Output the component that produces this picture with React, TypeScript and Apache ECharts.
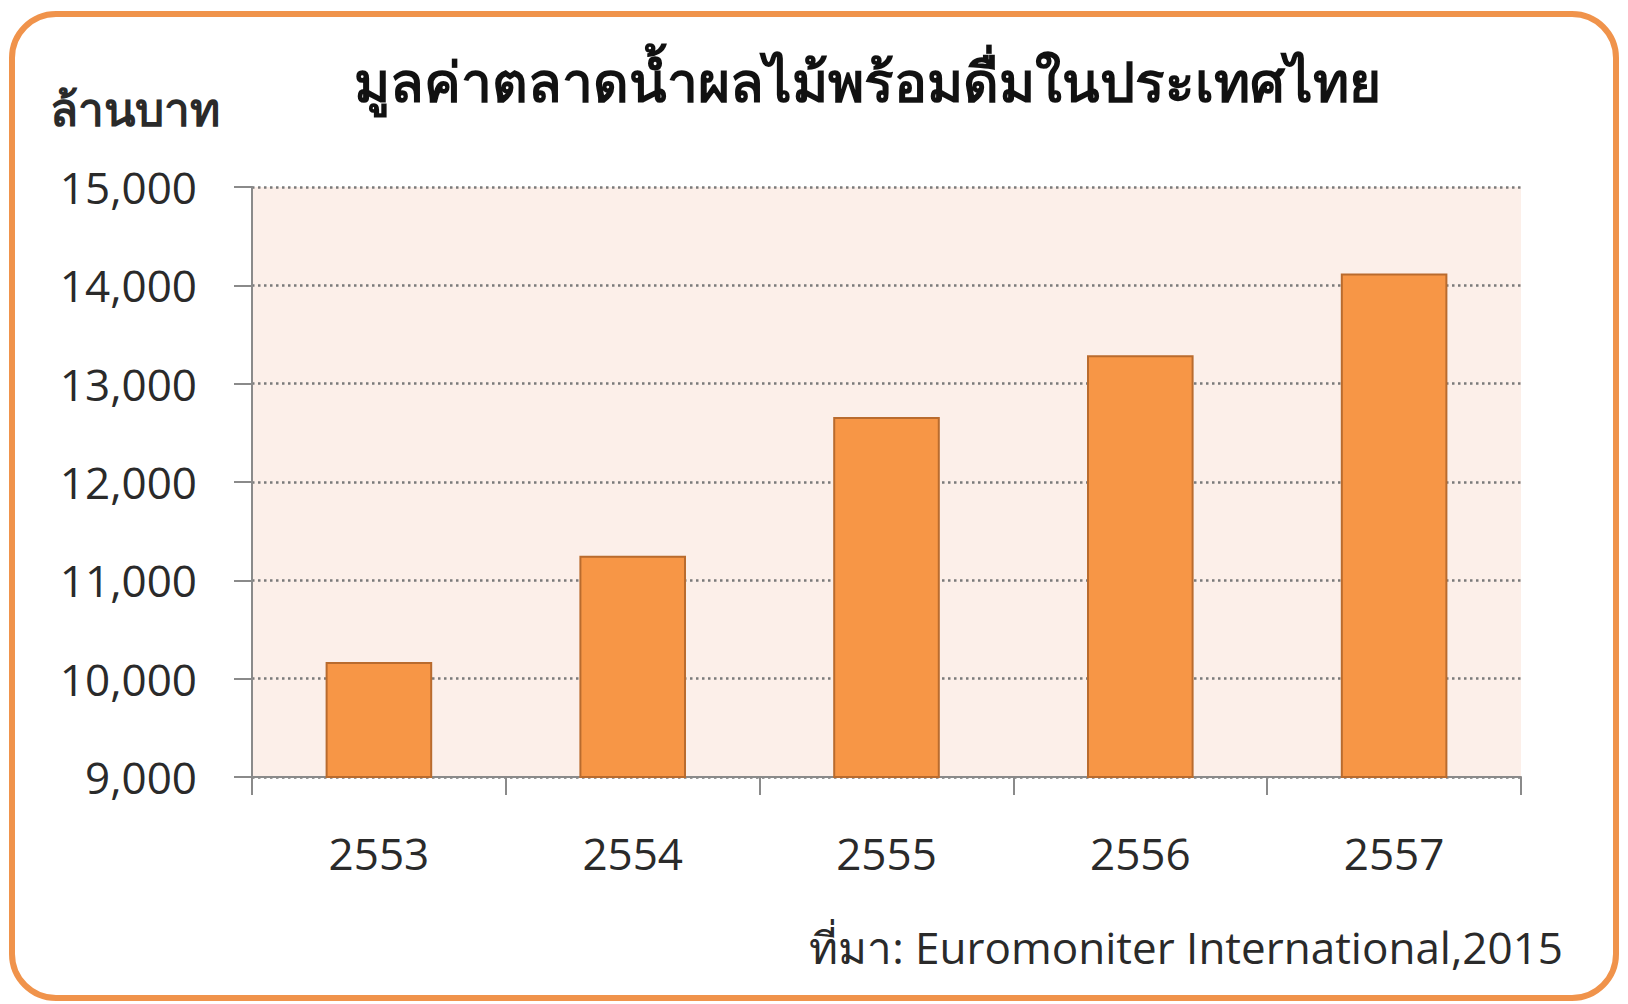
import React, { useEffect, useRef } from "react";
import * as echarts from "echarts";

const years = ["2553", "2554", "2555", "2556", "2557"];
const marketValue = [10170, 11250, 12660, 13290, 14120];
const yTicks = { min: 9000, max: 15000, interval: 1000 };
const titleText = "มูลค่าตลาดน้ำผลไม้พร้อมดื่มในประเทศไทย";
const unitText = "ล้านบาท";
const sourceText = "ที่มา: Euromoniter International,2015";

const FONT = "'Open Sans', 'Noto Sans', 'DejaVu Sans', sans-serif";
const TEXT = "#2a2a2a";

export default function App() {
  const ref = useRef<HTMLDivElement>(null);
  useEffect(() => {
    if (!ref.current) return;
    const chart = echarts.init(ref.current, undefined, { renderer: "svg" });
    chart.setOption({
      animation: false,
      backgroundColor: "#ffffff",
      grid: {
        left: 252,
        right: 107,
        top: 187,
        bottom: 227,
        show: true,
        backgroundColor: "#FCEFE9",
        borderWidth: 0,
      },
      graphic: [
        {
          type: "rect",
          shape: { x: 12, y: 14, width: 1604, height: 984, r: 44 },
          style: { fill: "none", stroke: "#F0934B", lineWidth: 6 },
          z: 10,
        },
        {
          type: "text",
          x: 867,
          y: 80,
          style: {
            text: titleText,
            fontFamily: FONT,
            fontSize: 55,
            fontWeight: "bold",
            fill: "#111",
            align: "center",
            verticalAlign: "middle",
          },
        },
        {
          type: "text",
          x: 50,
          y: 108,
          style: {
            text: unitText,
            fontFamily: FONT,
            fontSize: 46,
            fontWeight: "bold",
            fill: TEXT,
            align: "left",
            verticalAlign: "middle",
          },
        },
        {
          type: "text",
          x: 1563,
          y: 947,
          style: {
            text: sourceText,
            fontFamily: FONT,
            fontSize: 44,
            fill: TEXT,
            align: "right",
            verticalAlign: "middle",
          },
        },
      ],
      xAxis: {
        type: "category",
        data: years,
        boundaryGap: true,
        axisLine: { show: true, lineStyle: { color: "#8a8a8a", width: 2 } },
        axisTick: { show: true, length: 18, alignWithLabel: false, lineStyle: { color: "#8a8a8a", width: 2 } },
        axisLabel: { color: TEXT, fontFamily: FONT, fontSize: 44, margin: 54 },
        splitLine: { show: false },
      },
      yAxis: {
        type: "value",
        min: yTicks.min,
        max: yTicks.max,
        interval: yTicks.interval,
        axisLine: { show: true, lineStyle: { color: "#8a8a8a", width: 2 } },
        axisTick: { show: true, length: 18, lineStyle: { color: "#8a8a8a", width: 2 } },
        axisLabel: {
          color: TEXT,
          fontFamily: FONT,
          fontSize: 44,
          margin: 55,
          formatter: (v: number) => v.toLocaleString("en-US"),
        },
        splitLine: { show: true, lineStyle: { color: "#7a7a7a", width: 2.5, type: [2.5, 3.5] } },
      },
      series: [
        {
          type: "bar",
          data: marketValue,
          barWidth: "42%",
          itemStyle: { color: "#F79646", borderColor: "#B96B2E", borderWidth: 2 },
        },
      ],
    });
    return () => chart.dispose();
  }, []);
  return <div ref={ref} style={{ position: "absolute", left: 0, top: 0, width: 1628, height: 1004 }} />;
}
